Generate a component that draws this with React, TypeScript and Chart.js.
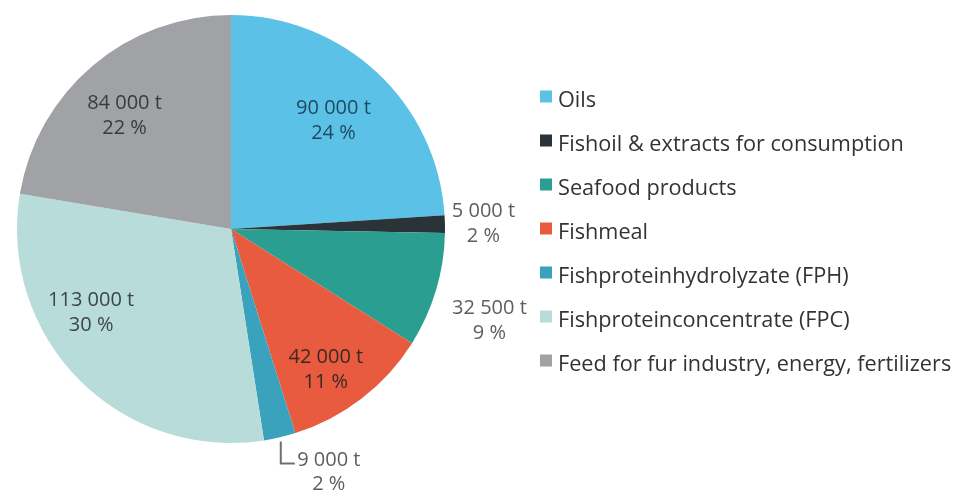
import React, { useEffect, useRef } from "react";
import { Chart, registerables } from "chart.js";

Chart.register(...registerables);

const categories = [
  "Oils",
  "Fishoil & extracts for consumption",
  "Seafood products",
  "Fishmeal",
  "Fishproteinhydrolyzate (FPH)",
  "Fishproteinconcentrate (FPC)",
  "Feed for fur industry, energy, fertilizers",
];
const tonnes = [90000, 5000, 32500, 42000, 9000, 113000, 84000];
const percents = [24, 2, 9, 11, 2, 30, 22];

const colors = ["#5cc1e6", "#2a3337", "#2b9e92", "#e85b3e", "#3aa2bd", "#b8dcd9", "#a0a2a5"];
// label placement style: radial factor, angle shift (deg), mode
const labelRadius = [0.7, 1.18, 1.28, 0.79, 1.02, 0.76, 0.73];
const labelShift = [0, 0, 2.7, 3.5, 0, 14, -2.7];
const labelColors = ["#1e4a62", "#5e5e5e", "#5e5e5e", "#3a2a26", "#5e5e5e", "#3b4646", "#3a3b3d"];
const leaderIndex = 4;

const fmt = (v: number) => String(v).replace(/\B(?=(\d{3})+(?!\d))/g, " ") + " t";

const labelPlugin = {
  id: "sliceLabels",
  afterDatasetsDraw(chart: any) {
    const ctx = chart.ctx;
    const meta = chart.getDatasetMeta(0);
    ctx.save();
    ctx.font = "20px 'Open Sans'";
    ctx.textAlign = "center";
    ctx.textBaseline = "middle";
    meta.data.forEach((arc: any, i: number) => {
      const { x, y, startAngle, endAngle, outerRadius } = arc.getProps(
        ["x", "y", "startAngle", "endAngle", "outerRadius"],
        true
      );
      const mid = (startAngle + endAngle) / 2 + (labelShift[i] * Math.PI) / 180;
      const l1 = fmt(tonnes[i]);
      const l2 = percents[i] + " %";
      ctx.fillStyle = labelColors[i];
      if (i === leaderIndex) {
        const sx = x + Math.cos(mid) * outerRadius * labelRadius[i];
        const sy = y + Math.sin(mid) * outerRadius * labelRadius[i];
        ctx.strokeStyle = "#707070";
        ctx.lineWidth = 2;
        ctx.beginPath();
        ctx.moveTo(sx, sy);
        ctx.lineTo(sx, sy + 22);
        ctx.lineTo(sx + 14, sy + 22);
        ctx.stroke();
        const cx = sx + 48;
        ctx.fillText(l1, cx, sy + 19);
        ctx.fillText(l2, cx, sy + 43);
      } else {
        const cx = x + Math.cos(mid) * outerRadius * labelRadius[i];
        const cy = y + Math.sin(mid) * outerRadius * labelRadius[i];
        ctx.fillText(l1, cx, cy - 11.5);
        ctx.fillText(l2, cx, cy + 13.5);
      }
    });
    ctx.restore();
  },
};

const legendPlugin = {
  id: "sideLegend",
  afterDraw(chart: any) {
    const ctx = chart.ctx;
    const area = chart.chartArea;
    const cy = (area.top + area.bottom) / 2 + 3.5;
    const step = 44;
    const x0 = area.right + 95;
    ctx.save();
    ctx.font = "21.7px 'Open Sans'";
    ctx.textAlign = "left";
    ctx.textBaseline = "middle";
    categories.forEach((c, i) => {
      const ty = cy + (i - (categories.length - 1) / 2) * step;
      ctx.fillStyle = colors[i];
      ctx.fillRect(x0, ty - 10, 12, 12);
      ctx.fillStyle = "#333333";
      ctx.fillText(c, x0 + 18, ty);
    });
    ctx.restore();
  },
};

export default function App() {
  const ref = useRef<HTMLCanvasElement | null>(null);
  useEffect(() => {
    if (!ref.current) return;
    const chart = new Chart(ref.current, {
      type: "pie",
      data: {
        labels: categories,
        datasets: [
          {
            data: tonnes,
            backgroundColor: colors,
            borderWidth: 0,
          },
        ],
      },
      options: {
        responsive: false,
        animation: false,
        layout: { padding: { left: 17, top: 15, right: 509, bottom: 47 } },
        plugins: {
          legend: { display: false },
          tooltip: { enabled: false },
        },
      },
      plugins: [labelPlugin, legendPlugin],
    });
    return () => chart.destroy();
  }, []);
  return (
    <div style={{ position: "absolute", left: 0, top: 0, width: 954, height: 490, background: "#fff" }}>
      <canvas ref={ref} width={954} height={490} />
    </div>
  );
}
